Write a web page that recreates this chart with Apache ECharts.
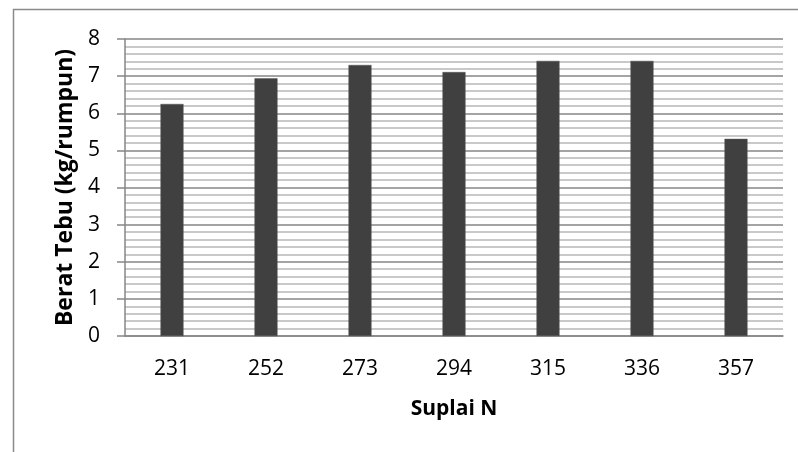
<!DOCTYPE html>
<html>
<head>
<meta charset="utf-8">
<script src="https://cdn.jsdelivr.net/npm/echarts@6/dist/echarts.min.js"></script>
<style>
html,body{margin:0;padding:0;background:#fff;}
#c{width:798px;height:452px;}
</style>
</head>
<body>
<div id="c"></div>
<script>
var categories = ['231', '252', '273', '294', '315', '336', '357'];
var beratTebu = [6.25, 6.94, 7.30, 7.11, 7.41, 7.41, 5.31];
var yTicks = [0, 1, 2, 3, 4, 5, 6, 7, 8];

var chart = echarts.init(document.getElementById('c'), null, {renderer: 'canvas'});
var font = '"Open Sans", Lato, sans-serif';
chart.setOption({
  animation: false,
  backgroundColor: '#fff',
  graphic: [{
    type: 'rect', silent: true, z: -1,
    shape: {x: 13.5, y: 9.5, width: 800, height: 460},
    style: {fill: 'none', stroke: '#8a8a8a', lineWidth: 1.5}
  }],
  grid: {left: 125, top: 39, right: 15, bottom: 116},
  xAxis: {
    type: 'category',
    data: categories,
    name: 'Suplai N',
    nameLocation: 'middle',
    nameGap: 63,
    nameTextStyle: {fontFamily: font, fontWeight: 'bold', fontSize: 21, color: '#000'},
    axisLine: {lineStyle: {color: '#868686', width: 1.5}},
    axisTick: {show: false},
    axisLabel: {fontFamily: font, fontSize: 21, color: '#000', margin: 23}
  },
  yAxis: {
    type: 'value',
    min: yTicks[0], max: yTicks[yTicks.length - 1], interval: 1,
    name: 'Berat Tebu (kg/rumpun)',
    nameLocation: 'middle',
    nameGap: 47,
    nameTextStyle: {fontFamily: font, fontWeight: 'bold', fontSize: 23, color: '#000'},
    axisLine: {show: true, lineStyle: {color: '#868686', width: 1.5}},
    axisTick: {show: true, length: 8, lineStyle: {color: '#868686', width: 1.5}},
    axisLabel: {fontFamily: font, fontSize: 21, color: '#000', margin: 25},
    splitLine: {show: true, lineStyle: {color: '#868686', width: 1.5}},
    minorTick: {show: false, splitNumber: 5},
    minorSplitLine: {show: true, lineStyle: {color: '#b8b8b8', width: 1.5}}
  },
  series: [{
    type: 'bar',
    data: beratTebu,
    barWidth: '24.5%',
    itemStyle: {color: '#404040', borderColor: '#555', borderWidth: 0.5}
  }]
});
</script>
</body>
</html>
